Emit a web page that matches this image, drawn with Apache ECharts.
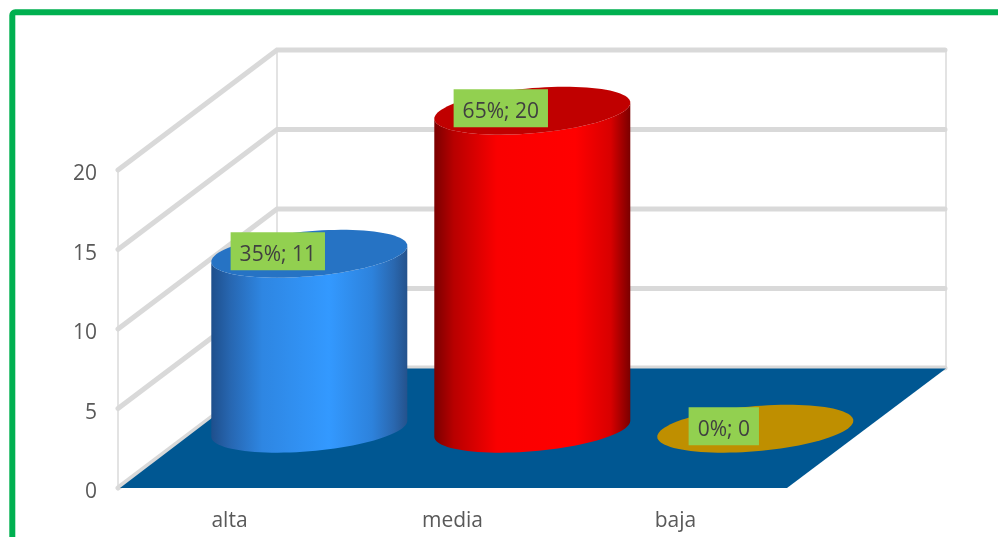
<!DOCTYPE html>
<html>
<head>
<meta charset="utf-8">
<style>html,body{margin:0;padding:0;background:#fff}#c{width:998px;height:537px}</style>
<script src="https://cdn.jsdelivr.net/npm/echarts@6/dist/echarts.min.js"></script>
</head>
<body>
<div id="c"></div>
<script>
var categories = ['alta', 'media', 'baja'];
var counts = [11, 20, 0];
var percents = [35, 65, 0];
var yTicks = [0, 5, 10, 15, 20];
var sideStops = [
  [[0, '#1E4F8C'], [0.1, '#2767B2'], [0.26, '#2E86E2'], [0.6, '#3399FF'], [0.82, '#2D82DC'], [0.93, '#2A68B0'], [1, '#24528C']],
  [[0, '#7A0000'], [0.1, '#B80000'], [0.32, '#FA0000'], [0.72, '#FF0000'], [0.9, '#D80000'], [1, '#7A0000']],
  [[0, '#BF8F00'], [1, '#BF8F00']]
];
var topColors = ['#2673C4', '#C00000', '#BF8F00'];

var DX = 159, DY = -120, RX = 98, RY = 22.6, TILT = 8, LIFT = 0.7;

function ellipse(cx, cy) {
  var pts = [];
  for (var i = 0; i < 96; i++) {
    var t = i / 96 * Math.PI * 2;
    pts.push([cx + RX * Math.cos(t), cy - TILT * Math.cos(t) + RY * Math.sin(t)]);
  }
  return pts;
}
function sidePoly(cx, yTop, yBase) {
  var pts = [];
  var i, t;
  for (i = 0; i <= 48; i++) {
    t = i / 48 * Math.PI;
    pts.push([cx + RX * Math.cos(t), yBase - TILT * Math.cos(t) + RY * Math.sin(t)]);
  }
  for (i = 48; i >= 0; i--) {
    t = i / 48 * Math.PI;
    pts.push([cx + RX * Math.cos(t), yTop - TILT * Math.cos(t) + RY * Math.sin(t)]);
  }
  return pts;
}

function renderWalls(params, api) {
  var cs = params.coordSys;
  var L = cs.x, R = cs.x + cs.width;
  var children = [];
  var y0 = api.coord([0, yTicks[0]])[1];
  var yMax = api.coord([0, yTicks[yTicks.length - 1]])[1];
  var thin = { stroke: '#E3E3E3', lineWidth: 2, fill: null };
  [L, L + DX, R + DX].forEach(function (xx, idx) {
    var off = idx === 0 ? 0 : DY;
    children.push({ type: 'line', shape: { x1: xx, y1: y0 + off, x2: xx, y2: yMax + off }, style: thin });
  });
  yTicks.forEach(function (v) {
    var y = api.coord([0, v])[1];
    children.push({
      type: 'polyline',
      shape: { points: [[L, y], [L + DX, y + DY], [R + DX - 1, y + DY]] },
      style: { stroke: '#D9D9D9', lineWidth: 5, fill: null, lineJoin: 'miter', lineCap: 'round' }
    });
  });
  children.push({
    type: 'polygon',
    shape: { points: [[L + 2, y0], [L + DX, y0 + DY + 0.5], [R + DX, y0 + DY + 0.5], [R, y0]] },
    style: { fill: '#005792' }
  });
  return { type: 'group', children: children };
}

function renderCylinder(params, api) {
  var i = api.value(0), v = api.value(1);
  var base = api.coord([i, 0]);
  var top = api.coord([i, v]);
  var cx = base[0] + DX / 2 + 0.3;
  var yBase = base[1] + DY / 2 + LIFT;
  var yTop = top[1] + DY / 2 + LIFT;
  var children = [];
  if (v > 0) {
    children.push({
      type: 'polygon',
      shape: { points: sidePoly(cx, yTop, yBase) },
      style: {
        fill: new echarts.graphic.LinearGradient(0, 0, 1, 0, sideStops[i].map(function (s) {
          return { offset: s[0], color: s[1] };
        }))
      }
    });
  }
  children.push({
    type: 'polygon',
    shape: { points: ellipse(cx, yTop) },
    style: { fill: topColors[i] }
  });
  children.push({
    type: 'text',
    z2: 10,
    x: cx - 31.5,
    y: yTop - 2.5,
    style: {
      text: '{a|' + percents[i] + '%; ' + counts[i] + '}',
      align: 'center',
      verticalAlign: 'middle',
      rich: {
        a: {
          font: '21px "Open Sans"',
          fontSize: 21,
          fontFamily: '"Open Sans"',
          fill: '#404040',
          backgroundColor: '#92D050',
          padding: [12, 9, 5, 9]
        }
      }
    }
  });
  return { type: 'group', children: children };
}

var chart = echarts.init(document.getElementById('c'), null, { renderer: 'canvas' });
chart.setOption({
  animation: false,
  backgroundColor: '#ffffff',
  textStyle: { fontFamily: '"Open Sans"' },
  grid: { left: 118, top: 170, width: 669, height: 318, containLabel: false },
  xAxis: {
    type: 'category',
    data: categories,
    axisLine: { show: false },
    axisTick: { show: false },
    splitLine: { show: false },
    axisLabel: { fontSize: 21, color: '#595959', margin: 23, fontFamily: '"Open Sans"' }
  },
  yAxis: {
    type: 'value',
    min: 0,
    max: 20,
    interval: 5,
    axisLine: { show: false },
    axisTick: { show: false },
    splitLine: { show: false },
    axisLabel: {
      margin: 21,
      formatter: '{t|{value}}',
      rich: { t: { fontSize: 21, color: '#595959', fontFamily: '"Open Sans"', padding: [9, 0, 0, 0] } }
    }
  },
  series: [
    {
      type: 'custom',
      coordinateSystem: 'cartesian2d',
      clip: false,
      silent: true,
      z: 1,
      renderItem: renderWalls,
      data: [[0, 0]],
      encode: { x: 0, y: 1 }
    },
    {
      type: 'custom',
      coordinateSystem: 'cartesian2d',
      clip: false,
      silent: true,
      z: 2,
      renderItem: renderCylinder,
      data: counts.map(function (v, i) { return [i, v]; }),
      encode: { x: 0, y: 1 }
    }
  ],
  graphic: [{
    type: 'rect',
    silent: true,
    z: 100,
    shape: { x: 12.3, y: 12.3, width: 1100, height: 800, r: 3 },
    style: { fill: null, stroke: '#00B050', lineWidth: 6 }
  }]
});
</script>
</body>
</html>
